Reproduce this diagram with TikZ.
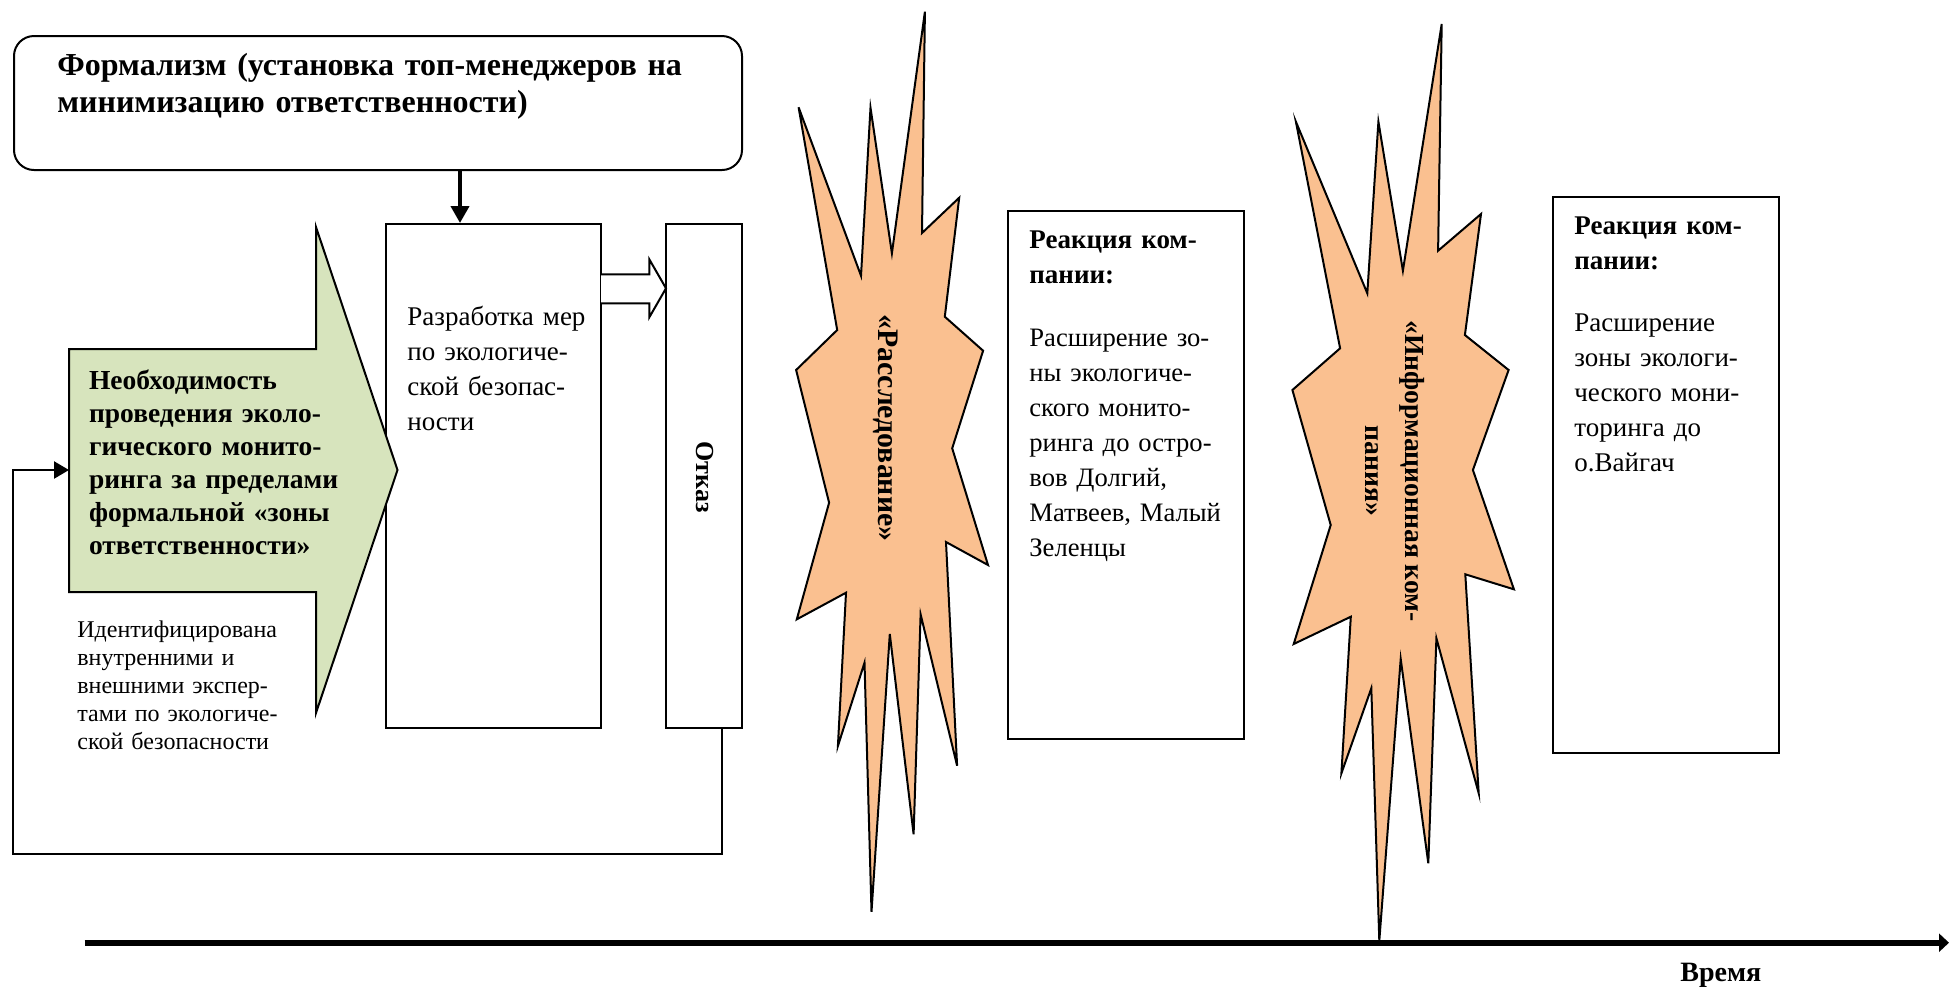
\documentclass[tikz,border=0pt]{standalone}
\usepackage{fontspec}
\setmainfont{Liberation Serif}
\usetikzlibrary{arrows.meta,fit}
\definecolor{needgreen}{HTML}{D7E4BD}
\definecolor{burstfill}{HTML}{FAC090}
\begin{document}
\begin{tikzpicture}[x=0.5pt,y=-0.5pt,
  frame/.style={draw=black,line width=1pt,fill=white,inner sep=0pt},
  txt/.style={inner sep=0pt,anchor=base west,align=left,text width=#1},
  vtxt/.style={inner sep=0pt,anchor=center,align=center,rotate=-90},
  burst/.style={draw=black,line width=1pt,fill=burstfill,line join=miter},
  link/.style={draw=black,line width=1.2pt},
  bodyfont/.style={font=\fontsize{13.5}{17.5}\selectfont},
  headfont/.style={font=\fontsize{13.5}{17.75}\selectfont\bfseries}]

% canvas
\fill[white] (0,0) rectangle (1949,987);
\useasboundingbox (0,0) rectangle (1949,987);

% top rounded box
\node[frame,rounded corners=10pt,fit={(14,36) (742,170)}] (formal) {};
\node[txt=360pt,font=\fontsize{16}{18.5}\selectfont\bfseries] (formaltxt) at (57,75)
  {Формализм (установка топ-менеджеров на\\минимизацию ответственности)};

% development and refusal boxes
\node[frame,fit={(386,224) (601,728)}] (razr) {};
\node[txt=120pt,bodyfont] (razrtxt) at (407,325)
  {Разработка мер\\по экологиче-\\ской безопас-\\ности};
\node[frame,fit={(666,224) (742,728)}] (otkaz) {};
\node[vtxt,font=\fontsize{13}{15}\selectfont\bfseries] (otkaztxt) at (705,477) {Отказ};

% arrow from the top box
\coordinate (dx) at (460,0);
\draw[line width=2pt,-{Triangle[length=8.5pt,width=9pt]}]
  (formal.south -| dx) -- (razr.north -| dx);

% hollow block arrow to the refusal box
\draw[line width=1pt,fill=white,line join=miter]
  (601,274.3) -- (649.3,274.3) -- (649.3,259.3) -- (666,288.3)
  -- (649.3,317.3) -- (649.3,303.3) -- (601,303.3);

% green block arrow
\draw[line width=1pt,fill=needgreen,line join=miter]
  (69,349) -- (316,349) -- (316,227) -- (397.5,470) -- (316,713)
  -- (316,592) -- (69,592) -- cycle;
\coordinate (needin) at (69,470);
\node[txt=140pt,font=\fontsize{13.75}{16.5}\selectfont\bfseries] (needtxt) at (88.7,389)
  {Необходимость\\проведения эколо-\\гического монито-\\ринга за пределами\\формальной «зоны\\ответственности»};
\node[txt=120pt,font=\fontsize{12}{14}\selectfont] (notetxt) at (77,637)
  {Идентифицирована\\внутренними и\\внешними экспер-\\тами по экологиче-\\ской безопасности};

% feedback loop from the refusal box
\coordinate (fbx) at (722,0);
\coordinate (fbl) at (13,854);
\draw[link,-{Triangle[length=7.5pt,width=8.5pt]}]
  (otkaz.south -| fbx) |- (fbl) |- (needin);

% first burst
\draw[burst] (924.9,11.7) -- (922,233) -- (959.2,197.7) -- (944.8,316.7)
  -- (983.1,350.7) -- (952.2,448.3) -- (988,565) -- (946,542)
  -- (957.1,765.7) -- (920.6,614.3) -- (913.6,834.3) -- (889.8,634)
  -- (871.5,911.7) -- (864.5,662.7) -- (837.9,746) -- (846,592.7)
  -- (796.8,619.3) -- (829.1,502.7) -- (796.1,370) -- (837.2,330)
  -- (798.6,107.3) -- (861,275.7) -- (870.5,107.7) -- (891.9,253.3) -- cycle;
\node[vtxt,font=\fontsize{14.9}{19.6}\selectfont\bfseries] (invest) at (886,428)
  {«Расследование»};

% first reaction box
\node[frame,fit={(1008,211) (1244,739)}] (react1) {};
\node[txt=110pt,headfont] (react1h) at (1029,248) {Реакция ком-\\пании:};
\node[txt=110pt,font=\fontsize{13.3}{17.5}\selectfont] (react1b) at (1029,346)
  {Расширение зо-\\ны экологиче-\\ского монито-\\ринга до остро-\\вов Долгий,\\Матвеев, Малый\\Зеленцы};

% second burst
\draw[burst] (1441.7,24) -- (1438.1,250.7) -- (1481,214) -- (1464.9,335)
  -- (1508.6,370) -- (1472.9,470) -- (1513.9,589.3) -- (1465.3,574.3)
  -- (1478.7,793.3) -- (1436.4,638.3) -- (1428.3,863.3) -- (1400.7,659)
  -- (1379.3,940.7) -- (1371.3,688.3) -- (1341.4,773.3) -- (1350.8,616.7)
  -- (1293.7,644) -- (1330.7,525) -- (1292.4,390) -- (1340.1,348.3)
  -- (1295.9,121.7) -- (1367.3,293.3) -- (1378.4,121.7) -- (1402.9,270.7) -- cycle;
\node[vtxt,font=\fontsize{13.8}{19.6}\selectfont\bfseries] (campaign) at (1395,471)
  {«Информационная ком-\\пания»};

% second reaction box
\node[frame,fit={(1553,197) (1779,753)}] (react2) {};
\node[txt=100pt,headfont] (react2h) at (1574,234) {Реакция ком-\\пании:};
\node[txt=100pt,font=\fontsize{13.5}{17.6}\selectfont] (react2b) at (1574,331)
  {Расширение\\зоны экологи-\\ческого мони-\\торинга до\\о.Вайгач};

% time axis
\coordinate (t0) at (84.5,942.7);
\coordinate (t1) at (1949,942.7);
\draw[line width=3pt,-{Triangle[length=5pt,width=9pt]}] (t0) -- (t1);
\node[txt=60pt,font=\fontsize{14}{16}\selectfont\bfseries] (timetxt) at (1680,981) {Время};
\end{tikzpicture}
\end{document}
